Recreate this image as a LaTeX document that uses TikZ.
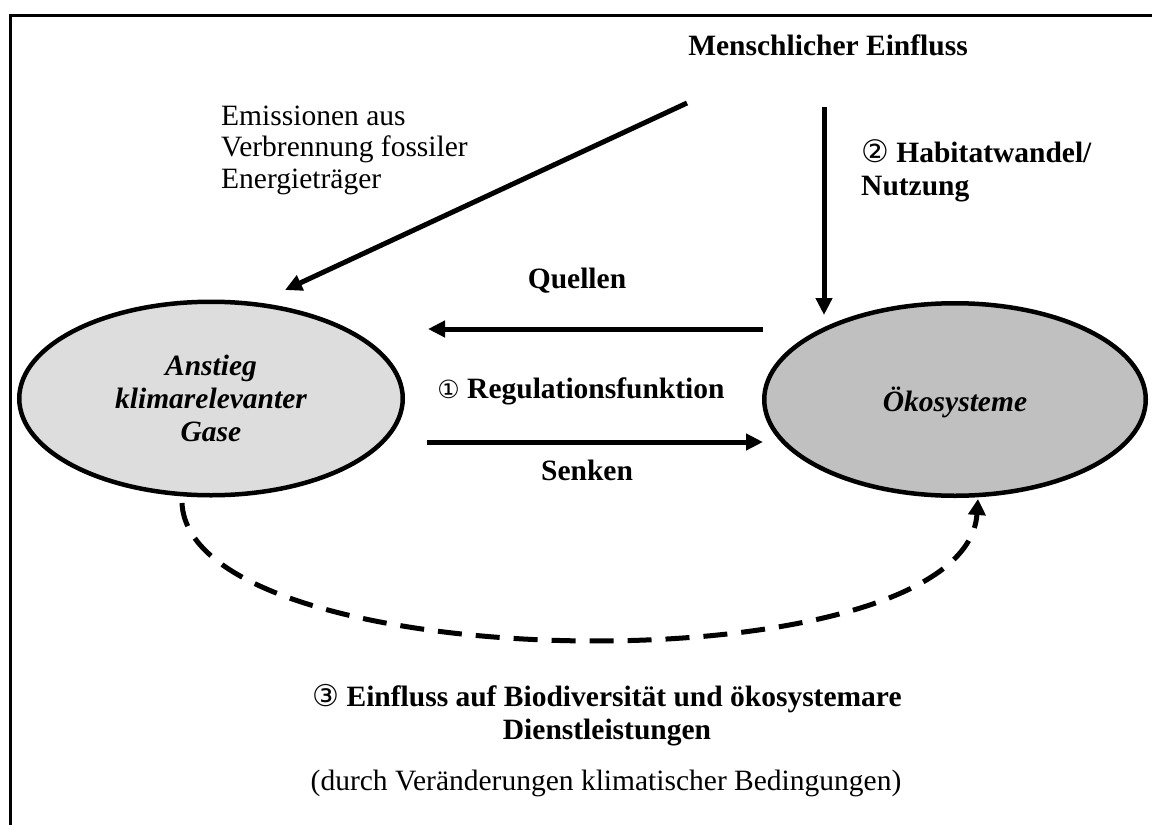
\documentclass[tikz,border=0pt]{standalone}
\usepackage{fontspec}
\setmainfont{Liberation Serif}
\newfontfamily\circfont{DejaVu Sans}
\usetikzlibrary{arrows.meta,shapes.geometric}
\definecolor{gasfill}{HTML}{DDDDDD}
\definecolor{oekofill}{HTML}{C0C0C0}
\newcommand{\circnum}[2]{{\circfont\mdseries\upshape\fontsize{#1}{30}\selectfont #2}}
\tikzset{
  txt/.style={inner sep=0pt, font=\fontsize{29.5}{31.5}\selectfont},
  btxt/.style={inner sep=0pt, font=\fontsize{29.5}{33}\selectfont\bfseries},
  oval/.style={ellipse, draw, line width=4.5pt, inner sep=0pt,
    font=\fontsize{29.5}{33}\selectfont\bfseries\itshape, align=center},
  arr/.style={line width=5pt, -{Triangle[length=17pt,width=16pt]}},
  darr/.style={line width=5pt, dash pattern=on 24pt off 14pt,
    -{Triangle[length=16pt,width=17pt]}},
  frame/.style={line width=3pt}
}
\begin{document}
\begin{tikzpicture}[x=1pt,y=-1pt]
\useasboundingbox (0,0) rectangle (1152,825);
\fill[white] (0,0) rectangle (1152,825);
\draw[frame] (10,825) -- (10,15) -- (1152,15);

\node[btxt, anchor=base] (mensch) at (828,55) {Menschlicher Einfluss};
\node[txt, align=left, anchor=base west] (emis) at (221,188) {Emissionen aus\\Verbrennung fossiler\\Energieträger};
\node[btxt, align=left, anchor=base west] (habitat) at (861,195) {\circnum{31}{②} Habitatwandel/\\Nutzung};

\node[oval, fill=gasfill, minimum width=383.5pt, minimum height=193.5pt] (gase) at (211,398.5) {Anstieg\\klimarelevanter\\Gase};
\node[oval, fill=oekofill, minimum width=381.5pt, minimum height=192.5pt, text depth=1pt] (oeko) at (955,399.5) {Ökosysteme};

\node[btxt, anchor=base] (quellen) at (577,288) {Quellen};
\node[btxt, anchor=base] (regul) at (581,398) {\circnum{25}{①} Regulationsfunktion};
\node[btxt, anchor=base] (senken) at (587,480) {Senken};

\node[btxt, align=center, anchor=base] (einfluss) at (607,739) {\circnum{30}{③} Einfluss auf Biodiversität und ökosystemare\\Dienstleistungen};
\node[txt, anchor=base] (durch) at (606,790) {(durch Veränderungen klimatischer Bedingungen)};

\coordinate (diagS) at (687,103);
\coordinate (diagE) at (285,290);
\coordinate (vertS) at (824,107);
\coordinate (vertE) at (824,315);
\coordinate (quelS) at (763,329);
\coordinate (quelE) at (428,329);
\coordinate (senkS) at (427,442);
\coordinate (senkE) at (763,442);
\coordinate (loopS) at (182,503);
\coordinate (loopE) at (978,499);

\draw[arr] (diagS) -- (diagE);
\draw[arr] (vertS) -- (vertE);
\draw[arr] (quelS) -- (quelE);
\draw[arr] (senkS) -- (senkE);
\draw[darr] (loopS) .. controls (190,680) and (965,690) .. (loopE);
\end{tikzpicture}
\end{document}
